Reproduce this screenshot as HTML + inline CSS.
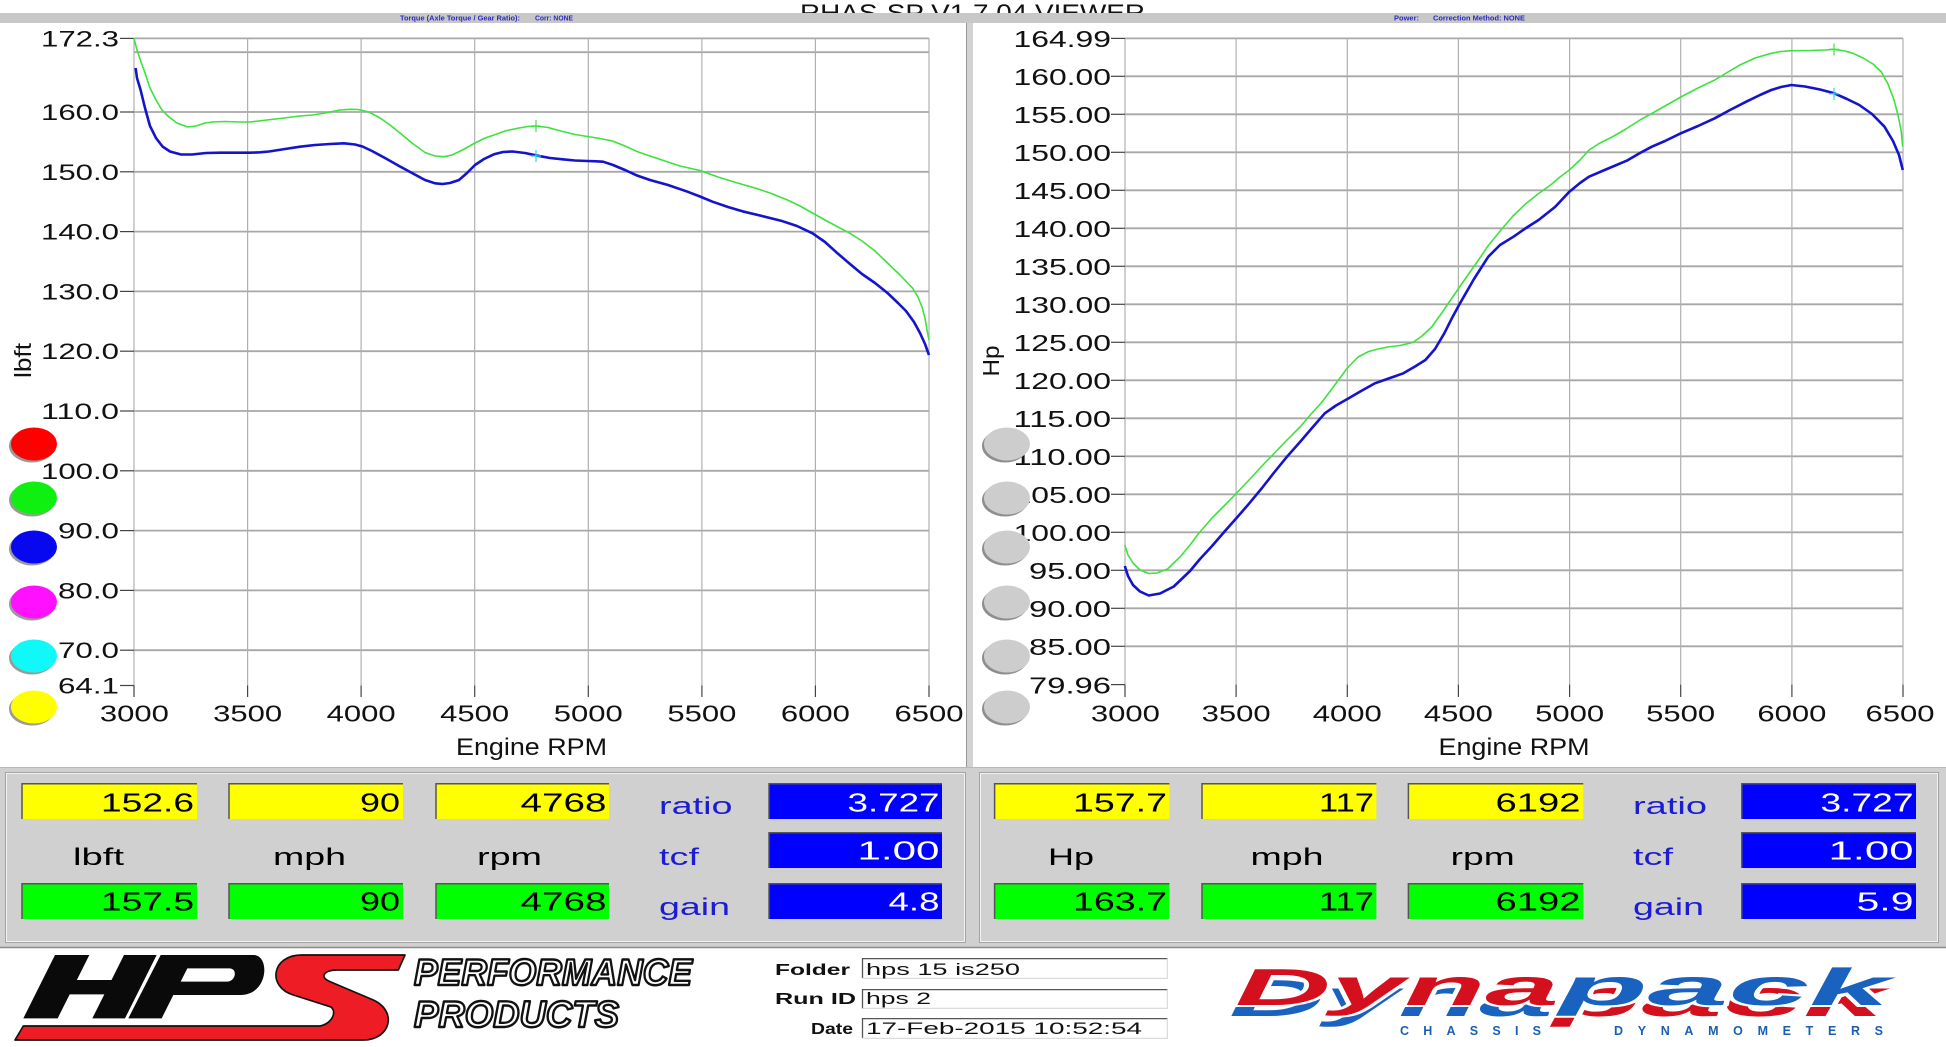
<!DOCTYPE html>
<html><head><meta charset="utf-8"><style>
html,body{margin:0;padding:0;background:#fff;}
svg{display:block;}
text{font-family:"Liberation Sans",Arial,sans-serif;}
</style></head><body>
<svg width="1946" height="1047" viewBox="0 0 1946 1047" xmlns="http://www.w3.org/2000/svg">
<rect width="1946" height="1047" fill="#fff"/>
<!-- title -->
<text x="800" y="21" font-size="24" fill="#111" textLength="345" lengthAdjust="spacingAndGlyphs">RHAS-SP V1.7.04  VIEWER</text>
<rect x="0" y="13" width="1946" height="10" fill="#c8c8c8"/>
<g font-size="7.5" font-weight="bold" fill="#2a2ac4">
<text x="400" y="20.7" textLength="120" lengthAdjust="spacingAndGlyphs">Torque (Axle Torque / Gear Ratio):</text>
<text x="535" y="20.7" textLength="38" lengthAdjust="spacingAndGlyphs">Corr: NONE</text>
<text x="1394" y="20.7" textLength="25" lengthAdjust="spacingAndGlyphs">Power:</text>
<text x="1433" y="20.7" textLength="92" lengthAdjust="spacingAndGlyphs">Correction Method: NONE</text>
</g>
<!-- separator between charts -->
<rect x="966" y="23" width="7" height="744" fill="#d2d2d2"/>
<line x1="966.5" y1="23" x2="966.5" y2="767" stroke="#9a9a9a" stroke-width="1"/>

<!-- LEFT GRID -->
<g stroke="#a8a8a8" stroke-width="1.8">
<line x1="134" y1="38.4" x2="929" y2="38.4"/>
<line x1="134" y1="52.2" x2="929" y2="52.2"/>
<line x1="134" y1="112" x2="929" y2="112"/>
<line x1="134" y1="171.8" x2="929" y2="171.8"/>
<line x1="134" y1="231.6" x2="929" y2="231.6"/>
<line x1="134" y1="291.4" x2="929" y2="291.4"/>
<line x1="134" y1="351.2" x2="929" y2="351.2"/>
<line x1="134" y1="411" x2="929" y2="411"/>
<line x1="134" y1="470.8" x2="929" y2="470.8"/>
<line x1="134" y1="530.6" x2="929" y2="530.6"/>
<line x1="134" y1="590.4" x2="929" y2="590.4"/>
<line x1="134" y1="650.2" x2="929" y2="650.2"/>
</g>
<g stroke="#b0b0b0" stroke-width="1.2">
<line x1="134" y1="38.4" x2="134" y2="685.5"/>
<line x1="247.6" y1="38.4" x2="247.6" y2="685.5"/>
<line x1="361.1" y1="38.4" x2="361.1" y2="685.5"/>
<line x1="474.7" y1="38.4" x2="474.7" y2="685.5"/>
<line x1="588.3" y1="38.4" x2="588.3" y2="685.5"/>
<line x1="701.9" y1="38.4" x2="701.9" y2="685.5"/>
<line x1="815.4" y1="38.4" x2="815.4" y2="685.5"/>
<line x1="929" y1="38.4" x2="929" y2="685.5"/>
</g>
<g stroke="#444" stroke-width="1.2">
<line x1="134" y1="685.5" x2="134" y2="697"/>
<line x1="247.6" y1="685.5" x2="247.6" y2="697"/>
<line x1="361.1" y1="685.5" x2="361.1" y2="697"/>
<line x1="474.7" y1="685.5" x2="474.7" y2="697"/>
<line x1="588.3" y1="685.5" x2="588.3" y2="697"/>
<line x1="701.9" y1="685.5" x2="701.9" y2="697"/>
<line x1="815.4" y1="685.5" x2="815.4" y2="697"/>
<line x1="929" y1="685.5" x2="929" y2="697"/>
<line x1="120" y1="38.4" x2="134" y2="38.4"/>
<line x1="120" y1="112" x2="134" y2="112"/>
<line x1="120" y1="171.8" x2="134" y2="171.8"/>
<line x1="120" y1="231.6" x2="134" y2="231.6"/>
<line x1="120" y1="291.4" x2="134" y2="291.4"/>
<line x1="120" y1="351.2" x2="134" y2="351.2"/>
<line x1="120" y1="411" x2="134" y2="411"/>
<line x1="120" y1="470.8" x2="134" y2="470.8"/>
<line x1="120" y1="530.6" x2="134" y2="530.6"/>
<line x1="120" y1="590.4" x2="134" y2="590.4"/>
<line x1="120" y1="650.2" x2="134" y2="650.2"/>
<line x1="120" y1="685.5" x2="134" y2="685.5"/>
</g>
<g font-size="22" fill="#111" text-anchor="end" lengthAdjust="spacingAndGlyphs">
<text x="119" y="46.5" textLength="78" lengthAdjust="spacingAndGlyphs">172.3</text>
<text x="119" y="120" textLength="78" lengthAdjust="spacingAndGlyphs">160.0</text>
<text x="119" y="179.8" textLength="78" lengthAdjust="spacingAndGlyphs">150.0</text>
<text x="119" y="239.6" textLength="78" lengthAdjust="spacingAndGlyphs">140.0</text>
<text x="119" y="299.4" textLength="78" lengthAdjust="spacingAndGlyphs">130.0</text>
<text x="119" y="359.2" textLength="78" lengthAdjust="spacingAndGlyphs">120.0</text>
<text x="119" y="419" textLength="78" lengthAdjust="spacingAndGlyphs">110.0</text>
<text x="119" y="478.8" textLength="78" lengthAdjust="spacingAndGlyphs">100.0</text>
<text x="119" y="538.6" textLength="61" lengthAdjust="spacingAndGlyphs">90.0</text>
<text x="119" y="598.4" textLength="61" lengthAdjust="spacingAndGlyphs">80.0</text>
<text x="119" y="658.2" textLength="61" lengthAdjust="spacingAndGlyphs">70.0</text>
<text x="119" y="693.3" textLength="61" lengthAdjust="spacingAndGlyphs">64.1</text>
</g>
<g font-size="23" fill="#111" text-anchor="middle">
<text x="134.4" y="721.5" textLength="69" lengthAdjust="spacingAndGlyphs">3000</text>
<text x="247.6" y="721.5" textLength="69" lengthAdjust="spacingAndGlyphs">3500</text>
<text x="361.1" y="721.5" textLength="69" lengthAdjust="spacingAndGlyphs">4000</text>
<text x="474.7" y="721.5" textLength="69" lengthAdjust="spacingAndGlyphs">4500</text>
<text x="588.3" y="721.5" textLength="69" lengthAdjust="spacingAndGlyphs">5000</text>
<text x="701.9" y="721.5" textLength="69" lengthAdjust="spacingAndGlyphs">5500</text>
<text x="815.4" y="721.5" textLength="69" lengthAdjust="spacingAndGlyphs">6000</text>
<text x="929" y="721.5" textLength="69" lengthAdjust="spacingAndGlyphs">6500</text>
<text x="531.5" y="755" font-size="24" textLength="151" lengthAdjust="spacingAndGlyphs">Engine RPM</text>
</g>
<text transform="translate(31,360.5) rotate(-90)" font-size="23" fill="#111" text-anchor="middle" textLength="35" lengthAdjust="spacingAndGlyphs">lbft</text>

<!-- left curves -->
<polyline fill="none" stroke="#3ee23e" stroke-width="1.6" stroke-linejoin="round" points="134,38.3 137,50 141,62 144,70 150,88 156,100 162,110 169,117 177,123 187.5,127 196,126 205,123 212.5,122 225,121.5 240,122 250,122 262.5,120.5 280,118.5 300,116 312.5,115 325,113 340,110 350,109.3 358,109.5 369,112 380,118 390,125 400,133 412,143 425,152.5 435,156 444,156.7 452,155 462.5,150 475,143 485,138 494,135 505,131 519,128 528,126.5 536,126 548,127.5 562.5,131.5 575,134.5 587.5,136.5 600,138.5 612.5,141 625,146 637,151.5 650,156 665,161 680,166 700,170.5 718,177 737.5,183 756,188.3 770,193 787.5,200 800,206 812.5,213 825,220 837,226.5 850,233.3 862,241 875,251 887.5,263 900,275 912.5,288 918,297 922,307 925,318 927,330 929,340"/>
<polyline fill="none" stroke="#1414cc" stroke-width="2.6" stroke-linejoin="round" points="135.6,68 137,78 140.6,90 145,108 150,126 156,138 162.5,146.5 170,151.5 181,154.5 192,154.5 206,153 220,152.7 235,152.7 250,152.7 260,152.3 269,151.5 285,149 300,146.7 315,145 330,144 344,143.3 355,144.5 362.5,146.5 372,151 385,158 400,166.5 412,173 425,180 435,183.3 442.5,184 450,183 459,180 467,173 475,165 484,159 494,154.3 503,152 512.5,151.5 525,153 537.5,155.7 550,158 562.5,159.3 575,160.5 587.5,161 596,161.3 603,161.7 613,165 625,170 637,175.5 650,180 668,185 687.5,191.7 700,196.5 712.5,201.7 728,207 744,211.7 762,216 781,220.7 797,226 812.5,233.3 825,242 837.5,253.3 850,264 862,274 875,283 887.5,293 898,303 906,311 914,322 920,333 925,344 929,355"/>
<g stroke-width="1.2">
<line x1="536" y1="120" x2="536" y2="132" stroke="#3ee23e"/>
<line x1="531" y1="126" x2="541" y2="126" stroke="#3ee23e"/>
<line x1="536" y1="150" x2="536" y2="162" stroke="#22d8ee"/>
<line x1="531" y1="156" x2="541" y2="156" stroke="#22d8ee"/>
</g>

<!-- left legend circles -->
<g>
<ellipse cx="32" cy="446" rx="23" ry="16.5" fill="#9a9a9a"/>
<ellipse cx="34" cy="444" rx="23" ry="16.5" fill="#ff0000"/>
<ellipse cx="32" cy="500" rx="23" ry="16.5" fill="#9a9a9a"/>
<ellipse cx="34" cy="498" rx="23" ry="16.5" fill="#10f010"/>
<ellipse cx="32" cy="549" rx="23" ry="16.5" fill="#9a9a9a"/>
<ellipse cx="34" cy="547" rx="23" ry="16.5" fill="#0808f0"/>
<ellipse cx="32" cy="604" rx="23" ry="16.5" fill="#9a9a9a"/>
<ellipse cx="34" cy="602" rx="23" ry="16.5" fill="#ff10ff"/>
<ellipse cx="32" cy="658" rx="23" ry="16.5" fill="#9a9a9a"/>
<ellipse cx="34" cy="656" rx="23" ry="16.5" fill="#10f8f8"/>
<ellipse cx="32" cy="709" rx="23" ry="16.5" fill="#9a9a9a"/>
<ellipse cx="34" cy="707" rx="23" ry="16.5" fill="#ffff00"/>
</g>

<!-- RIGHT GRID -->
<g stroke="#a8a8a8" stroke-width="1.8">
<line x1="1125" y1="38.4" x2="1903" y2="38.4"/>
<line x1="1125" y1="76.3" x2="1903" y2="76.3"/>
<line x1="1125" y1="114.3" x2="1903" y2="114.3"/>
<line x1="1125" y1="152.3" x2="1903" y2="152.3"/>
<line x1="1125" y1="190.3" x2="1903" y2="190.3"/>
<line x1="1125" y1="228.3" x2="1903" y2="228.3"/>
<line x1="1125" y1="266.3" x2="1903" y2="266.3"/>
<line x1="1125" y1="304.3" x2="1903" y2="304.3"/>
<line x1="1125" y1="342.3" x2="1903" y2="342.3"/>
<line x1="1125" y1="380.3" x2="1903" y2="380.3"/>
<line x1="1125" y1="418.3" x2="1903" y2="418.3"/>
<line x1="1125" y1="456.3" x2="1903" y2="456.3"/>
<line x1="1125" y1="494.3" x2="1903" y2="494.3"/>
<line x1="1125" y1="532.3" x2="1903" y2="532.3"/>
<line x1="1125" y1="570.3" x2="1903" y2="570.3"/>
<line x1="1125" y1="608.3" x2="1903" y2="608.3"/>
<line x1="1125" y1="646.3" x2="1903" y2="646.3"/>
</g>
<g stroke="#b0b0b0" stroke-width="1.2">
<line x1="1125" y1="38.4" x2="1125" y2="684.6"/>
<line x1="1236.1" y1="38.4" x2="1236.1" y2="684.6"/>
<line x1="1347.3" y1="38.4" x2="1347.3" y2="684.6"/>
<line x1="1458.4" y1="38.4" x2="1458.4" y2="684.6"/>
<line x1="1569.6" y1="38.4" x2="1569.6" y2="684.6"/>
<line x1="1680.7" y1="38.4" x2="1680.7" y2="684.6"/>
<line x1="1791.9" y1="38.4" x2="1791.9" y2="684.6"/>
<line x1="1903" y1="38.4" x2="1903" y2="684.6"/>
</g>
<g stroke="#444" stroke-width="1.2">
<line x1="1125" y1="684.6" x2="1125" y2="697"/>
<line x1="1236.1" y1="684.6" x2="1236.1" y2="697"/>
<line x1="1347.3" y1="684.6" x2="1347.3" y2="697"/>
<line x1="1458.4" y1="684.6" x2="1458.4" y2="697"/>
<line x1="1569.6" y1="684.6" x2="1569.6" y2="697"/>
<line x1="1680.7" y1="684.6" x2="1680.7" y2="697"/>
<line x1="1791.9" y1="684.6" x2="1791.9" y2="697"/>
<line x1="1903" y1="684.6" x2="1903" y2="697"/>
<line x1="1111" y1="38.4" x2="1125" y2="38.4"/>
<line x1="1111" y1="76.3" x2="1125" y2="76.3"/>
<line x1="1111" y1="114.3" x2="1125" y2="114.3"/>
<line x1="1111" y1="152.3" x2="1125" y2="152.3"/>
<line x1="1111" y1="190.3" x2="1125" y2="190.3"/>
<line x1="1111" y1="228.3" x2="1125" y2="228.3"/>
<line x1="1111" y1="266.3" x2="1125" y2="266.3"/>
<line x1="1111" y1="304.3" x2="1125" y2="304.3"/>
<line x1="1111" y1="342.3" x2="1125" y2="342.3"/>
<line x1="1111" y1="380.3" x2="1125" y2="380.3"/>
<line x1="1111" y1="418.3" x2="1125" y2="418.3"/>
<line x1="1111" y1="456.3" x2="1125" y2="456.3"/>
<line x1="1111" y1="494.3" x2="1125" y2="494.3"/>
<line x1="1111" y1="532.3" x2="1125" y2="532.3"/>
<line x1="1111" y1="570.3" x2="1125" y2="570.3"/>
<line x1="1111" y1="608.3" x2="1125" y2="608.3"/>
<line x1="1111" y1="646.3" x2="1125" y2="646.3"/>
<line x1="1111" y1="684.6" x2="1125" y2="684.6"/>
</g>
<g font-size="23" fill="#111" text-anchor="end">
<text x="1111" y="47" textLength="97.5" lengthAdjust="spacingAndGlyphs">164.99</text>
<text x="1111" y="85" textLength="97.5" lengthAdjust="spacingAndGlyphs">160.00</text>
<text x="1111" y="123" textLength="97.5" lengthAdjust="spacingAndGlyphs">155.00</text>
<text x="1111" y="161" textLength="97.5" lengthAdjust="spacingAndGlyphs">150.00</text>
<text x="1111" y="199" textLength="97.5" lengthAdjust="spacingAndGlyphs">145.00</text>
<text x="1111" y="237" textLength="97.5" lengthAdjust="spacingAndGlyphs">140.00</text>
<text x="1111" y="275" textLength="97.5" lengthAdjust="spacingAndGlyphs">135.00</text>
<text x="1111" y="313" textLength="97.5" lengthAdjust="spacingAndGlyphs">130.00</text>
<text x="1111" y="351" textLength="97.5" lengthAdjust="spacingAndGlyphs">125.00</text>
<text x="1111" y="389" textLength="97.5" lengthAdjust="spacingAndGlyphs">120.00</text>
<text x="1111" y="427" textLength="97.5" lengthAdjust="spacingAndGlyphs">115.00</text>
<text x="1111" y="465" textLength="97.5" lengthAdjust="spacingAndGlyphs">110.00</text>
<text x="1111" y="503" textLength="97.5" lengthAdjust="spacingAndGlyphs">105.00</text>
<text x="1111" y="541" textLength="97.5" lengthAdjust="spacingAndGlyphs">100.00</text>
<text x="1111" y="579" textLength="82" lengthAdjust="spacingAndGlyphs">95.00</text>
<text x="1111" y="617" textLength="82" lengthAdjust="spacingAndGlyphs">90.00</text>
<text x="1111" y="655" textLength="82" lengthAdjust="spacingAndGlyphs">85.00</text>
<text x="1111" y="693.3" textLength="82" lengthAdjust="spacingAndGlyphs">79.96</text>
</g>
<g font-size="23" fill="#111" text-anchor="middle">
<text x="1125.4" y="721.5" textLength="69" lengthAdjust="spacingAndGlyphs">3000</text>
<text x="1236.1" y="721.5" textLength="69" lengthAdjust="spacingAndGlyphs">3500</text>
<text x="1347.3" y="721.5" textLength="69" lengthAdjust="spacingAndGlyphs">4000</text>
<text x="1458.4" y="721.5" textLength="69" lengthAdjust="spacingAndGlyphs">4500</text>
<text x="1569.6" y="721.5" textLength="69" lengthAdjust="spacingAndGlyphs">5000</text>
<text x="1680.7" y="721.5" textLength="69" lengthAdjust="spacingAndGlyphs">5500</text>
<text x="1791.9" y="721.5" textLength="69" lengthAdjust="spacingAndGlyphs">6000</text>
<text x="1900" y="721.5" textLength="69" lengthAdjust="spacingAndGlyphs">6500</text>
<text x="1514" y="755" font-size="24" textLength="151" lengthAdjust="spacingAndGlyphs">Engine RPM</text>
</g>
<text transform="translate(999,361) rotate(-90)" font-size="23" fill="#111" text-anchor="middle" textLength="31" lengthAdjust="spacingAndGlyphs">Hp</text>

<!-- right curves -->
<polyline fill="none" stroke="#3ee23e" stroke-width="1.6" stroke-linejoin="round" points="1124.8,545 1128,555 1133,563 1140,570 1148.7,573.5 1157,573 1167.5,569 1180,557 1190,545 1199,533 1212,518 1225,505 1236.7,493 1250,479 1262,466 1274.5,453 1287,440 1300,427 1312,413 1322,402 1334,386 1347.4,368 1358,357 1368.8,351.5 1378,349 1387.7,347 1400,345.5 1412.8,342.5 1422,336 1431.7,327 1441,314 1450.6,300 1463,282 1475.7,264 1488,246 1500.9,230 1513,216 1526,203.5 1538,194 1551.2,184.5 1560,177 1569.4,170 1580,160 1589,150 1600,143 1614,136 1626.7,128.5 1640,120 1651.8,113.5 1665,106 1680.8,97 1698,88 1714.7,80 1728,72 1739.9,65 1755,58 1771.3,53.3 1781,51.5 1791.4,50.7 1810,50.5 1825,50 1834.2,49.3 1845,51 1853,53.3 1863,58 1873,64 1881.4,72 1888,84 1894,100 1898,115 1901,130 1902.8,146.7"/>
<polyline fill="none" stroke="#1414cc" stroke-width="2.6" stroke-linejoin="round" points="1124.8,566 1128,576 1133,585 1140,591.5 1148.7,595.5 1160,593.5 1173.8,586.5 1190,571 1200,559 1211.6,546.5 1225,531 1237,517.5 1249.3,503.3 1262,488 1274.5,472 1287,456.7 1300,442 1312,428 1324.8,413.3 1336,405.5 1348.7,398.3 1362,390.5 1375,383.3 1390,378 1403.4,373.3 1415,366.5 1425.4,360 1435,349 1444.3,333.3 1452,318 1460,303.3 1474,279 1488.3,256.7 1500,245 1513.5,236.7 1526,228 1538.6,220 1555,207 1569.4,191.7 1580,183 1589,176.7 1607,169 1626.7,160.7 1640,153 1651.8,146.7 1665,141 1680.8,133.3 1698,126 1714.7,118.3 1730,110 1746.2,101.7 1760,95 1771.3,90 1781,87 1791.4,85 1805,86.5 1820,89.5 1834.2,93.3 1847,99 1859.3,105 1872,114 1884.5,126.7 1893,141 1899,155 1902.8,170"/>
<g stroke-width="1.2">
<line x1="1834" y1="43.5" x2="1834" y2="55.5" stroke="#3ee23e"/>
<line x1="1829" y1="49.3" x2="1839" y2="49.3" stroke="#3ee23e"/>
<line x1="1834" y1="88" x2="1834" y2="100" stroke="#22d8ee"/>
<line x1="1829" y1="93.8" x2="1839" y2="93.8" stroke="#22d8ee"/>
</g>

<!-- right legend circles (gray) -->
<g>
<ellipse cx="1005" cy="446" rx="23" ry="16.5" fill="#8e8e8e"/>
<ellipse cx="1007" cy="444" rx="23" ry="16.5" fill="#cdcdcd"/>
<ellipse cx="1005" cy="500" rx="23" ry="16.5" fill="#8e8e8e"/>
<ellipse cx="1007" cy="498" rx="23" ry="16.5" fill="#cdcdcd"/>
<ellipse cx="1005" cy="549" rx="23" ry="16.5" fill="#8e8e8e"/>
<ellipse cx="1007" cy="547" rx="23" ry="16.5" fill="#cdcdcd"/>
<ellipse cx="1005" cy="604" rx="23" ry="16.5" fill="#8e8e8e"/>
<ellipse cx="1007" cy="602" rx="23" ry="16.5" fill="#cdcdcd"/>
<ellipse cx="1005" cy="658" rx="23" ry="16.5" fill="#8e8e8e"/>
<ellipse cx="1007" cy="656" rx="23" ry="16.5" fill="#cdcdcd"/>
<ellipse cx="1005" cy="709" rx="23" ry="16.5" fill="#8e8e8e"/>
<ellipse cx="1007" cy="707" rx="23" ry="16.5" fill="#cdcdcd"/>
</g>

<!-- DATA PANELS -->
<rect x="0" y="767" width="1946" height="181" fill="#d0d0d0"/>
<line x1="0" y1="767.5" x2="1946" y2="767.5" stroke="#b8b8b8" stroke-width="1"/>
<line x1="0" y1="947.5" x2="1946" y2="947.5" stroke="#8a8a8a" stroke-width="1.5"/>
<rect x="5.5" y="772.5" width="960" height="170" fill="none" stroke="#a4a4a4" stroke-width="1"/>
<rect x="6.5" y="773.5" width="958" height="168" fill="none" stroke="#f2f2f2" stroke-width="1"/>
<rect x="979.5" y="772.5" width="959" height="170" fill="none" stroke="#a4a4a4" stroke-width="1"/>
<rect x="980.5" y="773.5" width="957" height="168" fill="none" stroke="#f2f2f2" stroke-width="1"/>

<!-- boxes left -->
<g>
<rect x="22" y="783" width="175" height="36" fill="#ffff00"/>
<rect x="229" y="783" width="174" height="36" fill="#ffff00"/>
<rect x="436" y="783" width="173" height="36" fill="#ffff00"/>
<rect x="22" y="883" width="175" height="36" fill="#00ff00"/>
<rect x="229" y="883" width="174" height="36" fill="#00ff00"/>
<rect x="436" y="883" width="173" height="36" fill="#00ff00"/>
<rect x="769" y="783" width="173" height="36" fill="#0000ff"/>
<rect x="769" y="832" width="173" height="36" fill="#0000ff"/>
<rect x="769" y="883" width="173" height="36" fill="#0000ff"/>
<rect x="994.6" y="783" width="174.8" height="36" fill="#ffff00"/>
<rect x="1202" y="783" width="174.4" height="36" fill="#ffff00"/>
<rect x="1408.4" y="783" width="174.9" height="36" fill="#ffff00"/>
<rect x="994.6" y="883" width="174.8" height="36" fill="#00ff00"/>
<rect x="1202" y="883" width="174.4" height="36" fill="#00ff00"/>
<rect x="1408.4" y="883" width="174.9" height="36" fill="#00ff00"/>
<rect x="1741.8" y="783" width="174.2" height="36" fill="#0000ff"/>
<rect x="1741.8" y="832" width="174.2" height="36" fill="#0000ff"/>
<rect x="1741.8" y="883" width="174.2" height="36" fill="#0000ff"/>
</g>
<g fill="none" stroke="#555" stroke-width="1.5">
<path d="M22,819 V783.7 H197"/><path d="M229,819 V783.7 H403"/><path d="M436,819 V783.7 H609"/>
<path d="M22,919 V883.7 H197"/><path d="M229,919 V883.7 H403"/><path d="M436,919 V883.7 H609"/>
<path d="M769,819 V783.7 H942"/><path d="M769,868 V832.7 H942"/><path d="M769,919 V883.7 H942"/>
<path d="M994.6,819 V783.7 H1169.4"/><path d="M1202,819 V783.7 H1376.4"/><path d="M1408.4,819 V783.7 H1583.3"/>
<path d="M994.6,919 V883.7 H1169.4"/><path d="M1202,919 V883.7 H1376.4"/><path d="M1408.4,919 V883.7 H1583.3"/>
<path d="M1741.8,819 V783.7 H1916"/><path d="M1741.8,868 V832.7 H1916"/><path d="M1741.8,919 V883.7 H1916"/>
</g>
<g font-size="25.5" fill="#000" text-anchor="end">
<text x="194" y="811.7" textLength="93" lengthAdjust="spacingAndGlyphs">152.6</text>
<text x="400" y="811.7" textLength="40" lengthAdjust="spacingAndGlyphs">90</text>
<text x="606.5" y="811.7" textLength="86" lengthAdjust="spacingAndGlyphs">4768</text>
<text x="194" y="910.5" textLength="93" lengthAdjust="spacingAndGlyphs">157.5</text>
<text x="400" y="910.5" textLength="40" lengthAdjust="spacingAndGlyphs">90</text>
<text x="606.5" y="910.5" textLength="86" lengthAdjust="spacingAndGlyphs">4768</text>
<text x="1167" y="811.7" textLength="94" lengthAdjust="spacingAndGlyphs">157.7</text>
<text x="1374" y="811.7" textLength="55" lengthAdjust="spacingAndGlyphs">117</text>
<text x="1580.5" y="811.7" textLength="85" lengthAdjust="spacingAndGlyphs">6192</text>
<text x="1167" y="910.5" textLength="94" lengthAdjust="spacingAndGlyphs">163.7</text>
<text x="1374" y="910.5" textLength="55" lengthAdjust="spacingAndGlyphs">117</text>
<text x="1580.5" y="910.5" textLength="85" lengthAdjust="spacingAndGlyphs">6192</text>
</g>
<g font-size="25.5" fill="#ffffff" text-anchor="end">
<text x="939.5" y="811.7" textLength="92" lengthAdjust="spacingAndGlyphs">3.727</text>
<text x="939.5" y="859.5" textLength="82" lengthAdjust="spacingAndGlyphs">1.00</text>
<text x="939.5" y="910.5" textLength="51" lengthAdjust="spacingAndGlyphs">4.8</text>
<text x="1913.5" y="811.7" textLength="93" lengthAdjust="spacingAndGlyphs">3.727</text>
<text x="1913.5" y="859.5" textLength="85" lengthAdjust="spacingAndGlyphs">1.00</text>
<text x="1913.5" y="910.5" textLength="57" lengthAdjust="spacingAndGlyphs">5.9</text>
</g>
<g font-size="24" fill="#000" text-anchor="middle">
<text x="98.5" y="865" textLength="51" lengthAdjust="spacingAndGlyphs">lbft</text>
<text x="309.5" y="865" textLength="73" lengthAdjust="spacingAndGlyphs">mph</text>
<text x="509.5" y="865" textLength="65" lengthAdjust="spacingAndGlyphs">rpm</text>
<text x="1071" y="865" textLength="46" lengthAdjust="spacingAndGlyphs">Hp</text>
<text x="1287" y="865" textLength="73" lengthAdjust="spacingAndGlyphs">mph</text>
<text x="1482.7" y="865" textLength="64" lengthAdjust="spacingAndGlyphs">rpm</text>
</g>
<g font-size="24" fill="#1c1cd2">
<text x="659" y="814" textLength="73.5" lengthAdjust="spacingAndGlyphs">ratio</text>
<text x="659" y="865" textLength="40" lengthAdjust="spacingAndGlyphs">tcf</text>
<text x="659" y="915" textLength="71" lengthAdjust="spacingAndGlyphs">gain</text>
<text x="1633" y="814" textLength="74" lengthAdjust="spacingAndGlyphs">ratio</text>
<text x="1633" y="865" textLength="40" lengthAdjust="spacingAndGlyphs">tcf</text>
<text x="1633" y="915" textLength="71" lengthAdjust="spacingAndGlyphs">gain</text>
</g>

<!-- FOOTER: HPS logo -->
<g transform="translate(0,940) scale(0.33333)">
<polygon fill="#0a0a0a" points="165,45 268,45 230.5,120 334.5,120 372,45 470,45 375,235 277,235 313,163 209,163 173,235 70,235"/>
<path fill="#0a0a0a" fill-rule="evenodd" d="M482,45 L760,45 C812,45 805,165 722,165 L520,165 L485,235 L385,235 Z M562,85 L688,85 C714,85 708,125 680,125 L542,125 Z"/>
<path fill="#ee1c24" stroke="#111" stroke-width="5" stroke-linejoin="round" d="M1215,45 L905,45 C815,45 800,140 880,165 L990,200 C1012,210 1000,250 960,258 L70,258 L45,300 L1090,300 C1170,300 1195,215 1120,180 L990,125 C955,110 975,90 1010,90 L1195,90 Z"/>
</g>
<g font-size="37" font-weight="bold" font-style="italic" fill="#fff" stroke="#111" stroke-width="2.4" stroke-linejoin="round">
<text x="414" y="985" textLength="278" lengthAdjust="spacingAndGlyphs">PERFORMANCE</text>
<text x="414" y="1027" textLength="205" lengthAdjust="spacingAndGlyphs">PRODUCTS</text>
</g>

<!-- Folder / Run ID / Date -->
<g font-size="16" font-weight="bold" fill="#111" text-anchor="end">
<text x="850" y="975" textLength="75" lengthAdjust="spacingAndGlyphs">Folder</text>
<text x="856" y="1004" textLength="81" lengthAdjust="spacingAndGlyphs">Run ID</text>
<text x="853" y="1034" textLength="42" lengthAdjust="spacingAndGlyphs">Date</text>
</g>
<g>
<rect x="862" y="958" width="305.5" height="20" fill="#fff"/>
<rect x="862" y="989" width="305.5" height="19.5" fill="#fff"/>
<rect x="862" y="1018" width="305.5" height="20" fill="#fff"/>
</g>
<g fill="none" stroke-width="1.3">
<path d="M862.5,978 V958.6 H1167.5" stroke="#555"/>
<path d="M862.5,978.4 H1167.4 V958.6" stroke="#dcdcdc"/>
<path d="M862.5,1008.5 V989.6 H1167.5" stroke="#555"/>
<path d="M862.5,1008.4 H1167.4 V989.6" stroke="#dcdcdc"/>
<path d="M862.5,1038 V1018.6 H1167.5" stroke="#555"/>
<path d="M862.5,1038.4 H1167.4 V1018.6" stroke="#dcdcdc"/>
</g>
<g font-size="17" fill="#111">
<text x="866" y="975" textLength="154" lengthAdjust="spacingAndGlyphs">hps 15 is250</text>
<text x="866" y="1004" textLength="65" lengthAdjust="spacingAndGlyphs">hps 2</text>
<text x="866" y="1034" textLength="276" lengthAdjust="spacingAndGlyphs">17-Feb-2015  10:52:54</text>
</g>

<!-- Dynapack logo -->
<g font-size="52" font-weight="bold" font-style="italic">
<text x="1229" y="1016" fill="#1a62c0" textLength="324" lengthAdjust="spacingAndGlyphs">Dyna</text>
<text x="1553" y="1016" fill="#d4101e" textLength="331" lengthAdjust="spacingAndGlyphs">pack</text>
<text x="1235" y="1005" fill="#d4101e" stroke="#fff" stroke-width="4" paint-order="stroke" textLength="324" lengthAdjust="spacingAndGlyphs">Dyna</text>
<text x="1559" y="1005" fill="#1a62c0" stroke="#fff" stroke-width="4" paint-order="stroke" textLength="331" lengthAdjust="spacingAndGlyphs">pack</text>
</g>
<g font-size="12.5" font-weight="bold" fill="#1a5fb4">
<text x="1400" y="1035" textLength="141" lengthAdjust="spacing">CHASSIS</text>
<text x="1614" y="1035" textLength="269" lengthAdjust="spacing">DYNAMOMETERS</text>
</g>
</svg>
</body></html>
